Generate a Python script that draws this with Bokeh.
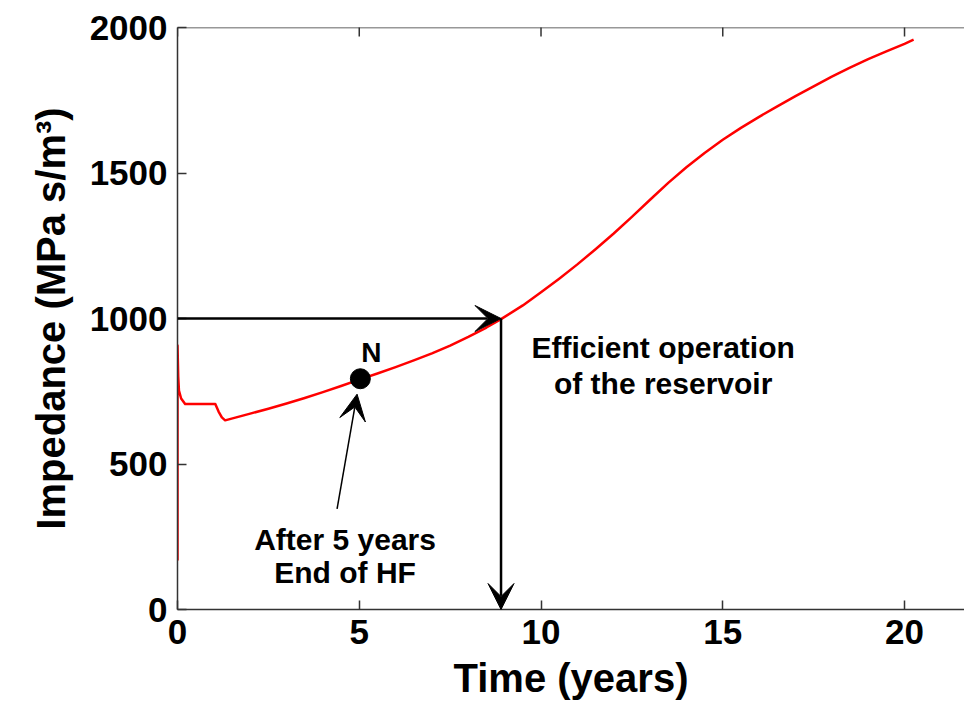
import math
from bokeh.plotting import figure
from bokeh.models import FixedTicker, Arrow, VeeHead, ColumnDataSource, Range1d, Span
from bokeh.core.properties import value
from bokeh.embed import file_html
from bokeh.resources import INLINE

# ---- data ----
time_years = [0, 0, 0.02, 0.04, 0.1, 0.21, 0.6, 1.04, 1.13, 1.22, 1.31,
              2.0, 2.5, 3.0, 3.5, 4.0, 4.5, 5.0, 5.5, 6.0, 6.5, 7.0, 7.5, 8.0, 8.5, 8.9,
              9.5, 10.0, 10.5, 11.0, 11.5, 12.0, 12.5, 13.0, 13.5, 14.0, 14.5,
              15.0, 15.5, 16.0, 16.5, 17.0, 17.5, 18.0, 18.5, 19.0, 19.5, 20.0, 20.25]
impedance = [168, 907, 800, 752, 725, 706, 706, 706, 680, 660, 650,
             673, 690, 708, 727, 747, 768, 790, 811, 833, 856, 880, 907, 937, 969, 998,
             1045, 1090, 1137, 1186, 1238, 1292, 1349, 1408, 1466, 1520, 1569,
             1614, 1655, 1693, 1729, 1764, 1798, 1831, 1862, 1891, 1918, 1944, 1958]

point_x = [5.03]
point_y = [793]
point_label = ["N"]
point_label_x = [5.33]
point_label_y = [884]

# arrows: (x_start, y_start, x_end, y_end)
arrow_h = (0.0, 1000, 8.9, 1000)
arrow_v = (8.9, 1000, 8.9, 0)
arrow_n = (4.39, 346, 4.94, 740)

note_texts = ["Efficient operation", "of the reservoir", "After 5 years", "End of HF"]
note_x = [13.36, 13.36, 4.61, 4.61]
note_y = [901, 777, 239, 128]

x_ticks = [0, 5, 10, 15, 20]
y_ticks = [0, 500, 1000, 1500, 2000]
x_max = 21.65
y_max = 2000

FONT = "Liberation Sans"
AXC = "#333333"

p = figure(width=964, height=702, output_backend="svg", toolbar_location=None,
           x_range=Range1d(0, x_max), y_range=Range1d(0, y_max),
           min_border_left=177, min_border_right=0, min_border_top=27, min_border_bottom=93)
p.outline_line_color = None
p.grid.visible = False
p.background_fill_color = "white"
p.border_fill_color = "white"

for ax, ticks in ((p.xaxis[0], x_ticks), (p.yaxis[0], y_ticks)):
    ax.ticker = FixedTicker(ticks=ticks)
    ax.major_tick_in = 9
    ax.major_tick_out = 0
    ax.minor_tick_line_color = None
    ax.axis_line_color = AXC
    ax.axis_line_width = 1.5
    ax.major_tick_line_color = AXC
    ax.major_tick_line_width = 1.5
    ax.major_label_text_font = FONT
    ax.major_label_text_font_style = "bold"
    ax.major_label_text_font_size = "35px"
    ax.major_label_text_color = "black"
    ax.axis_label_text_font = FONT
    ax.axis_label_text_font_style = "bold"
    ax.axis_label_text_font_size = "40px"
    ax.axis_label_text_color = "black"

p.xaxis.axis_label = "Time (years)"
p.yaxis.axis_label = "Impedance (MPa s/m³)"
p.xaxis.major_label_standoff = 10
p.xaxis.axis_label_standoff = 9
p.yaxis.major_label_standoff = 10
p.yaxis.axis_label_standoff = 14

# top box edge with inward ticks
p.add_layout(Span(location=y_max, dimension="width", line_color=AXC, line_width=1.5))
p.scatter(x_ticks, [y_max] * len(x_ticks), marker="dash", angle=math.pi / 2,
          size=18, line_color=AXC, line_width=1.5)

p.line(time_years, impedance, line_color="#ff0000", line_width=2.5, line_join="round")

for arr in (arrow_h, arrow_v, arrow_n):
    xs, ys, xe, ye = arr
    lw = 1.5 if arr is arrow_n else 2.5
    p.add_layout(Arrow(x_start=xs, y_start=ys, x_end=xe, y_end=ye,
                       line_color="black", line_width=lw,
                       end=VeeHead(size=26, fill_color="black", line_color="black", line_width=1)))

p.scatter(point_x, point_y, size=20, fill_color="black", line_color="black")

p.text(x=point_label_x, y=point_label_y, text=point_label, text_font=value(FONT),
       text_font_style="bold", text_font_size="28px", text_align="center",
       text_baseline="alphabetic", text_color="black")

src = ColumnDataSource(dict(x=note_x, y=note_y, t=note_texts))
p.text(x="x", y="y", text="t", source=src, text_font=value(FONT), text_font_style="bold",
       text_font_size="30px", text_align="center", text_baseline="alphabetic", text_color="black")

open("out.html", "w").write(file_html(p, INLINE))
